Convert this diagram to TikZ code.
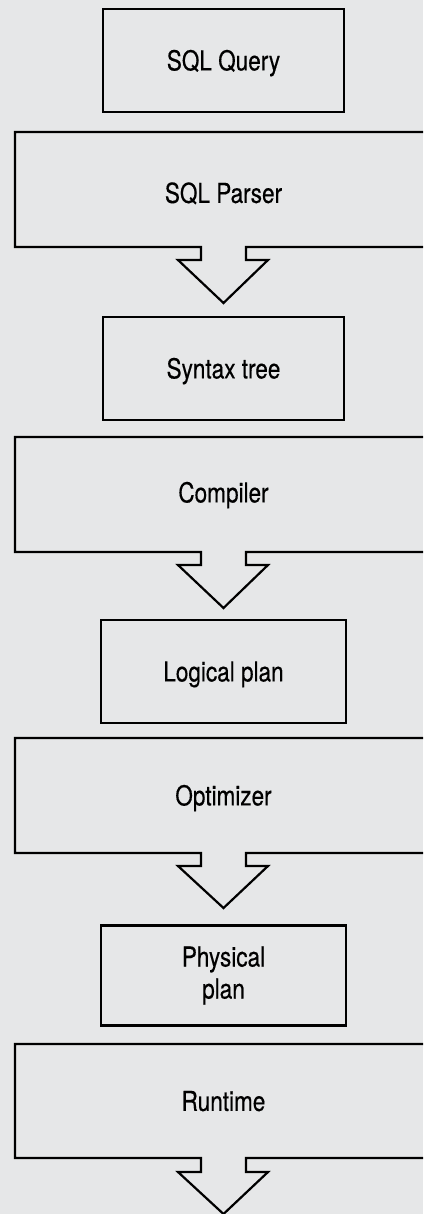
\documentclass[tikz,border=0pt]{standalone}
\usepackage{fontspec}
\setmainfont{TeX Gyre Heros}[FakeStretch=0.82,FakeBold=0.4]
\definecolor{bgcol}{HTML}{E6E7E8}
\begin{document}
\begin{tikzpicture}[x=1pt,y=-1pt,
  outline/.style={draw=black,line width=2.2pt,line join=miter},
  boxbase/.style={outline,rectangle,inner sep=0pt,font=\fontsize{27.5}{32}\selectfont,align=center},
  smallbox/.style={boxbase,minimum width=241pt,minimum height=103pt,text height=19.8pt,text depth=0pt},
  smallbox2/.style={boxbase,minimum width=245pt,minimum height=100pt},
  label/.style={inner sep=0pt,font=\fontsize{27.5}{32}\selectfont,text height=19.8pt,text depth=0pt}]
\fill[bgcol] (0,0) rectangle (423,1214);
\useasboundingbox (0,0) rectangle (423,1214);
\begin{scope}
\clip (0,0) rectangle (423,1214);
% big blocks with outgoing arrows
\foreach \t/\b/\w/\p in {132/247/260/303, 437/552/565/608, 738/853/866/908, 1044/1158/1172/1214}{
  \draw[outline] (201,\b) -- (15,\b) -- (15,\t) -- (432,\t) -- (432,\b) -- (246,\b)
     -- (246,\w) -- (268,\w) -- (223.5,\p) -- (178,\w) -- (201,\w) -- cycle;
}
\end{scope}
% small boxes
\node[smallbox] (query) at (223.5,60.5) {SQL Query};
\node[smallbox] (syntax) at (223.5,368.5) {Syntax tree};
\node[smallbox,minimum width=245pt] (logical) at (223.5,671.5) {Logical plan};
\node[smallbox2] (physical) at (223.5,975.5) {Physical\\plan};
% big block labels
\node[label] (parser) at (223.5,193) {SQL Parser};
\node[label] (compiler) at (223.5,492.5) {Compiler};
\node[label] (optimizer) at (223.5,795.5) {Optimizer};
\node[label] (runtime) at (223.5,1101) {Runtime};
\end{tikzpicture}
\end{document}
